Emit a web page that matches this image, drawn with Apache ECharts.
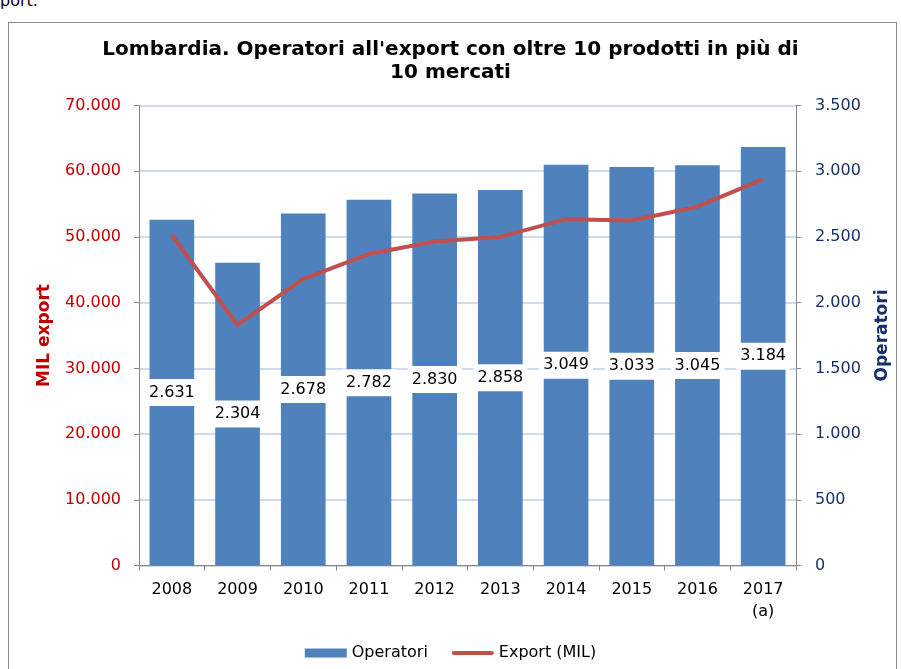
<!DOCTYPE html>
<html>
<head>
<meta charset="utf-8">
<script src="https://cdn.jsdelivr.net/npm/echarts@6/dist/echarts.min.js"></script>
<style>
  html, body { margin: 0; padding: 0; background: #fff; }
  #wrap { position: relative; width: 901px; height: 669px; overflow: hidden; }
  #frame { position: absolute; left: 8px; top: 22px; width: 889px; height: 660px; border: 1px solid #8a8a8a; box-sizing: border-box; }
  #cut { position: absolute; left: 0; top: -9px; font: 16px "DejaVu Sans", sans-serif; color: #000; }
  #chart { position: absolute; left: 0; top: 0; width: 901px; height: 669px; }
</style>
</head>
<body>
<div id="wrap">
  <div id="cut">port.</div>
  <div id="frame"></div>
  <div id="chart"></div>
</div>
<script>
// Data
const years = ['2008', '2009', '2010', '2011', '2012', '2013', '2014', '2015', '2016', '2017\n(a)'];
const operatori = [2631, 2304, 2678, 2782, 2830, 2858, 3049, 3033, 3045, 3184];
const exportMil = [50300, 36600, 43600, 47400, 49300, 50000, 52700, 52500, 54600, 58800];

const FONT = '"DejaVu Sans", Verdana, sans-serif';
const fmtIt = (v) => String(v).replace(/\B(?=(\d{3})+(?!\d))/g, '.');

const chart = echarts.init(document.getElementById('chart'), null, { renderer: 'canvas' });

chart.setOption({
  backgroundColor: 'transparent',
  animation: false,
  textStyle: { fontFamily: FONT },
  title: {
    text: "Lombardia. Operatori all'export con oltre 10 prodotti in più di\n10 mercati",
    left: 'center',
    top: 33,
    textStyle: { fontFamily: FONT, fontSize: 20, fontWeight: 'bold', color: '#000', lineHeight: 23 },
  },
  legend: {
    bottom: 3,
    left: 'center',
    itemWidth: 42,
    itemHeight: 9,
    itemGap: 24,
    textStyle: { fontFamily: FONT, fontSize: 16, color: '#000' },
    data: [
      { name: 'Operatori', icon: 'rect' },
      { name: 'Export (MIL)', icon: 'path://M2,0H42A2,2 0 0 1 42,4H2A2,2 0 0 1 2,0Z' },
    ],
  },
  grid: { left: 139, right: 105, top: 105.5, bottom: 103.5 },
  xAxis: {
    type: 'category',
    data: years,
    axisLine: { lineStyle: { color: '#868686', width: 1 } },
    axisTick: { show: true, length: 5, lineStyle: { color: '#868686' } },
    axisLabel: { color: '#000', fontSize: 16, fontFamily: FONT, margin: 13, lineHeight: 22 },
  },
  yAxis: [
    {
      type: 'value',
      min: 0,
      max: 70000,
      interval: 10000,
      position: 'left',
      name: 'MIL export',
      nameLocation: 'middle',
      nameGap: 86,
      nameTextStyle: { color: '#C00000', fontWeight: 'bold', fontSize: 17, fontFamily: FONT },
      axisLine: { show: true, lineStyle: { color: '#868686' } },
      axisTick: { show: true, length: 5, lineStyle: { color: '#868686' } },
      axisLabel: { color: '#C00000', fontSize: 16, fontFamily: FONT, margin: 18, formatter: fmtIt },
      splitLine: { show: true, lineStyle: { color: '#BCCFEA', width: 1.5 } },
    },
    {
      type: 'value',
      min: 0,
      max: 3500,
      interval: 500,
      position: 'right',
      name: 'Operatori',
      nameLocation: 'middle',
      nameGap: 78,
      nameTextStyle: { color: '#17306A', fontWeight: 'bold', fontSize: 17, fontFamily: FONT },
      axisLine: { show: true, lineStyle: { color: '#868686' } },
      axisTick: { show: true, length: 5, lineStyle: { color: '#868686' } },
      axisLabel: { color: '#17306A', fontSize: 16, fontFamily: FONT, margin: 19, formatter: fmtIt },
      splitLine: { show: false },
    },
  ],
  series: [
    {
      name: 'Operatori',
      type: 'bar',
      yAxisIndex: 1,
      data: operatori,
      barWidth: '68%',
      itemStyle: { color: '#4F81BD' },
      label: {
        show: true,
        position: 'inside',
        color: '#000',
        fontSize: 16,
        fontFamily: FONT,
        backgroundColor: '#fff',
        padding: [6, 4, 5, 4],
        formatter: (p) => fmtIt(p.value),
      },
      z: 2,
    },
    {
      name: 'Export (MIL)',
      type: 'line',
      yAxisIndex: 0,
      data: exportMil,
      symbol: 'none',
      lineStyle: { color: '#C0504D', width: 4 },
      itemStyle: { color: '#C0504D' },
      z: 3,
    },
  ],
});
</script>
</body>
</html>
